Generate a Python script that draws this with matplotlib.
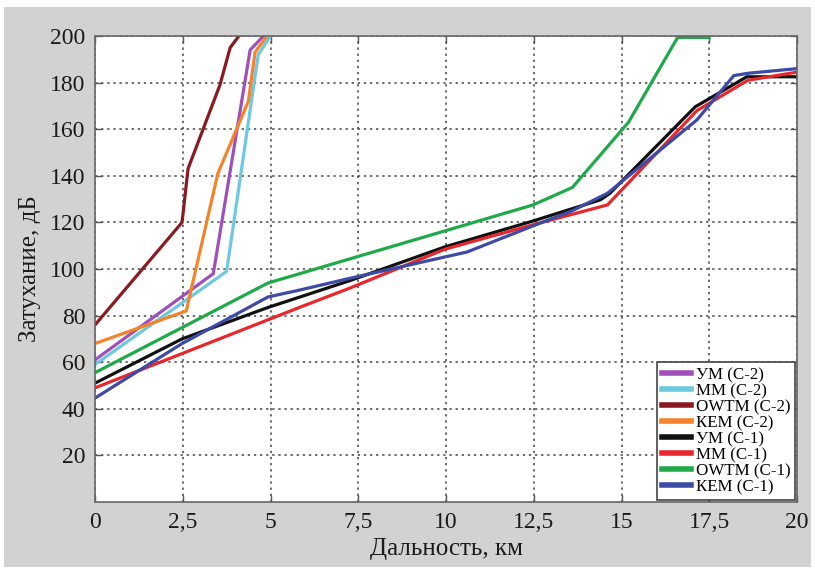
import matplotlib.pyplot as plt
from matplotlib.patches import Rectangle

plt.rcParams['font.family'] = ['Liberation Serif', 'DejaVu Serif']

# distance, km / attenuation, dB
um_c2_x = [0, 3.37, 4.42, 4.8]
um_c2_y = [61, 98, 194, 200]
mm_c2_x = [0, 3.75, 4.65, 5.0]
mm_c2_y = [59, 99, 192, 200]
owtm_c2_x = [0, 2.48, 2.65, 3.56, 3.85, 4.1]
owtm_c2_y = [76, 120, 143, 179, 195, 200]
kem_c2_x = [0, 2.6, 3.5, 4.37, 4.56, 4.9]
kem_c2_y = [68, 82, 141, 172, 193, 200]

um_c1_x = [0, 2.48, 4.93, 7.26, 9.97, 12.48, 14.4, 14.67, 17.1, 18.57, 20]
um_c1_y = [51, 70, 83.5, 95, 109.5, 120.6, 129.7, 132.5, 169.6, 182.5, 182.5]
mm_c1_x = [0, 5.84, 7.26, 9.97, 12.48, 14.6, 17.15, 18.6, 20]
mm_c1_y = [49, 83.6, 91.8, 108.5, 119, 127.5, 168, 181, 184.5]
owtm_c1_x = [0, 4.93, 12.48, 13.6, 15.2, 16.6, 17.5]
owtm_c1_y = [55.5, 94, 127.5, 135, 163, 199.4, 199.4]
kem_c1_x = [0, 2.48, 4.93, 5.84, 7.26, 10.6, 12.48, 13.6, 14.6, 17.15, 18.2, 18.6, 20]
kem_c1_y = [44.6, 68, 88, 91, 96, 107.3, 118.5, 125, 132.5, 164, 183, 184, 186]

series = [
    ("УМ (С-2)", um_c2_x, um_c2_y, "#a04fba"),
    ("ММ (С-2)", mm_c2_x, mm_c2_y, "#6cc9de"),
    ("OWTM (С-2)", owtm_c2_x, owtm_c2_y, "#8a1a22"),
    ("КЕМ (С-2)", kem_c2_x, kem_c2_y, "#f5832b"),
    ("УМ (С-1)", um_c1_x, um_c1_y, "#111111"),
    ("ММ (С-1)", mm_c1_x, mm_c1_y, "#e8262c"),
    ("OWTM (С-1)", owtm_c1_x, owtm_c1_y, "#1faa4a"),
    ("КЕМ (С-1)", kem_c1_x, kem_c1_y, "#3d4ba6"),
]

xticks = [0, 2.5, 5, 7.5, 10, 12.5, 15, 17.5, 20]
xtick_labels = ["0", "2,5", "5", "7,5", "10", "12,5", "15", "17,5", "20"]
yticks = [20, 40, 60, 80, 100, 120, 140, 160, 180, 200]

fig = plt.figure(figsize=(8.15, 5.71), dpi=100, facecolor="white")
# grey panel behind the plot, like the scanned figure
panel = Rectangle((4 / 815, 4 / 571), 807 / 815, 560 / 571,
                  transform=fig.transFigure, facecolor="#d2d2d2",
                  edgecolor="none", zorder=-10)
fig.add_artist(panel)
ax = fig.add_axes([95 / 815, 69 / 571, 702 / 815, 466 / 571])
ax.set_facecolor("white")

for label, x, y, c in series:
    ax.plot(x, y, color=c, lw=2.3, label=label, solid_joinstyle="miter")

ax.set_xlim(0, 20)
ax.set_ylim(0, 200)
ax.set_xticks(xticks)
ax.set_xticklabels(xtick_labels)
ax.set_yticks(yticks)
ax.tick_params(direction="in", length=5, width=1, top=True, right=True,
               labelsize=17, colors="#555555", labelcolor="#1a1a1a", pad=7)
ax.grid(True, linestyle=(0, (1.5, 2.5)), color="#444444", lw=1.1)
for s in ax.spines.values():
    s.set_color("#666666")
    s.set_linewidth(1.2)

ax.set_xlabel("Дальность, км", fontsize=18, color="#1a1a1a", labelpad=4)
ax.set_ylabel("Затухание, дБ", fontsize=18, color="#1a1a1a", labelpad=6)

leg = ax.legend(loc="lower right", fontsize=12.2, frameon=True, fancybox=False,
                edgecolor="#444444", framealpha=1, borderaxespad=0.1,
                labelspacing=0.0, handlelength=1.7, handletextpad=0.3,
                borderpad=0.3)
leg.get_frame().set_linewidth(1.2)
for h in leg.get_lines():
    h.set_linewidth(4)

fig.savefig("out.png", dpi=100, facecolor="white")
